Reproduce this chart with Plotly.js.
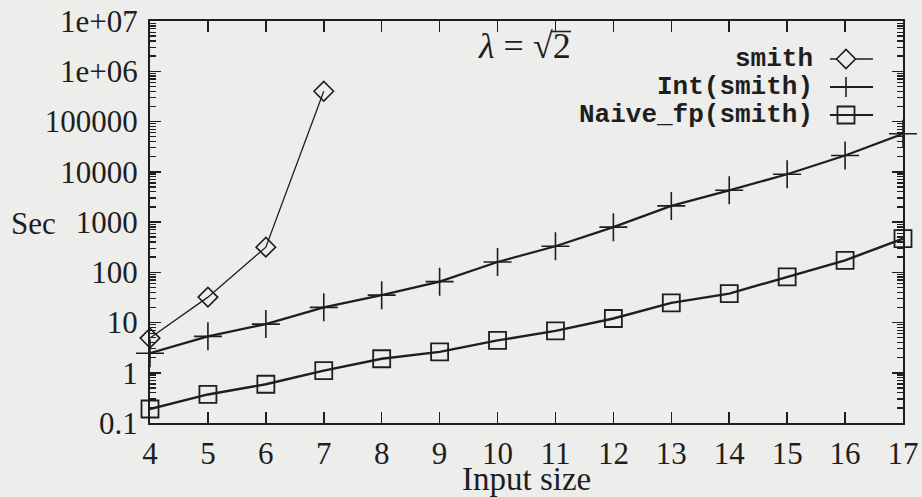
<!DOCTYPE html>
<html>
<head>
<meta charset="utf-8">
<script src="https://cdn.plot.ly/plotly-3.0.1.min.js"></script>
<style>
  html, body { margin: 0; padding: 0; background: #ededeb; }
  #chart { width: 922px; height: 497px; }
</style>
</head>
<body>
<div id="chart"></div>
<script>
// ---- data ----
const inputSize = [4, 5, 6, 7, 8, 9, 10, 11, 12, 13, 14, 15, 16, 17];
const smithX = [4, 5, 6, 7];
const smithSec = [4.9, 32, 316, 400000];
const intSmithSec = [2.45, 5.3, 9.3, 20, 35, 65, 160, 330, 790, 2090, 4270, 8900, 21000, 57000];
const naiveFpSec = [0.19, 0.37, 0.59, 1.1, 1.9, 2.6, 4.4, 6.8, 12, 24.5, 37.6, 81, 173, 465];
const yTickVals = [0.1, 1, 10, 100, 1000, 10000, 100000, 1000000, 10000000];
const yTickText = ['0.1', '1', '10', '100', '1000', '10000', '100000', '1e+06', '1e+07'];
const seriesNames = ['smith', 'Int(smith)', 'Naive_fp(smith)'];

// ---- style ----
const ink = '#1e1e1e';
const bg = '#ededeb';
const serif = 'Liberation Serif';
const mono = 'Liberation Mono';
const W = 922, H = 497;
const M = {l: 150, r: 19, t: 21, b: 74};
const PW = W - M.l - M.r, PH = H - M.t - M.b;
const px = x => (x - M.l) / PW;        // pixel -> paper x
const py = y => (H - M.b - y) / PH;    // pixel -> paper y

const traces = [
  {
    x: smithX, y: smithSec, name: seriesNames[0], type: 'scatter', mode: 'lines+markers', cliponaxis: false,
    line: {color: ink, width: 1.3},
    marker: {symbol: 'diamond-open', size: 15, color: ink, line: {color: ink, width: 1.6}}
  },
  {
    x: inputSize, y: intSmithSec, name: seriesNames[1], type: 'scatter', mode: 'lines+markers', cliponaxis: false,
    line: {color: ink, width: 2.2},
    marker: {symbol: 'cross-thin-open', size: 20, color: ink, line: {color: ink, width: 1.6}}
  },
  {
    x: inputSize, y: naiveFpSec, name: seriesNames[2], type: 'scatter', mode: 'lines+markers', cliponaxis: false,
    line: {color: ink, width: 2.4},
    marker: {symbol: 'square-open', size: 17, color: ink, line: {color: ink, width: 1.8}}
  }
];

// legend keys (text right aligned, sample on the right, like gnuplot)
const legendRows = [59, 87, 115];
const lineX0 = 830, lineX1 = 873, markX = 846;
const shapes = [];
const annotations = [];
legendRows.forEach((yy, i) => {
  annotations.push({
    xref: 'paper', yref: 'paper', x: px(815), y: py(yy), xanchor: 'right', yanchor: 'middle',
    text: '<b>' + seriesNames[i] + '</b>', showarrow: false, font: {family: mono, size: 26, color: ink}
  });
  shapes.push({type: 'line', xref: 'paper', yref: 'paper', x0: px(lineX0), x1: px(lineX1), y0: py(yy), y1: py(yy),
    line: {color: ink, width: i === 0 ? 1.3 : 2.2}});
  if (i === 0) {
    const r = 9.5;
    shapes.push({type: 'path', xref: 'paper', yref: 'paper',
      path: `M ${px(markX - r)},${py(yy)} L ${px(markX)},${py(yy - r)} L ${px(markX + r)},${py(yy)} L ${px(markX)},${py(yy + r)} Z`,
      line: {color: ink, width: 1.6}, fillcolor: bg});
  } else if (i === 1) {
    shapes.push({type: 'line', xref: 'paper', yref: 'paper', x0: px(markX), x1: px(markX), y0: py(yy - 10), y1: py(yy + 10),
      line: {color: ink, width: 1.6}});
  } else {
    const r = 8.5;
    shapes.push({type: 'rect', xref: 'paper', yref: 'paper', x0: px(markX - r), x1: px(markX + r), y0: py(yy - r), y1: py(yy + r),
      line: {color: ink, width: 1.8}, fillcolor: 'rgba(0,0,0,0)'});
  }
});

// lambda label with the radical's vinculum over the 2
annotations.push({
  xref: 'paper', yref: 'paper', x: px(524), y: py(46), xanchor: 'center', yanchor: 'middle',
  text: '<i>λ</i> = √2', showarrow: false,
  font: {family: serif, size: 36, color: ink}
});
shapes.push({type: 'line', xref: 'paper', yref: 'paper', x0: px(551), x1: px(571), y0: py(31.5), y1: py(31.5),
  line: {color: ink, width: 1.6}});

annotations.push({
  xref: 'paper', yref: 'paper', x: px(33), y: py(223), xanchor: 'center', yanchor: 'middle',
  text: 'Sec', showarrow: false, font: {family: serif, size: 31, color: ink}
});
annotations.push({
  xref: 'paper', yref: 'paper', x: px(526), y: py(479), xanchor: 'center', yanchor: 'middle',
  text: 'Input size', showarrow: false, font: {family: serif, size: 33, color: ink}
});

const layout = {
  width: W, height: H,
  margin: M,
  paper_bgcolor: bg,
  plot_bgcolor: bg,
  showlegend: false,
  font: {family: serif, size: 31, color: ink},
  xaxis: {
    range: [4, 17], tickmode: 'linear', tick0: 4, dtick: 1,
    ticks: 'inside', ticklen: 11, tickwidth: 1.5, tickcolor: ink,
    showline: true, linecolor: ink, linewidth: 2, mirror: 'ticks',
    showgrid: false, zeroline: false, ticklabelstandoff: 2,
    tickfont: {family: serif, size: 31, color: ink}
  },
  yaxis: {
    type: 'log', range: [-1, 7], tickmode: 'array', tickvals: yTickVals, ticktext: yTickText,
    ticks: 'inside', ticklen: 11, tickwidth: 1.5, tickcolor: ink,
    minor: {dtick: 'D1', ticks: 'inside', ticklen: 6, tickwidth: 1.3, tickcolor: ink, showgrid: false},
    showline: true, linecolor: ink, linewidth: 2, mirror: 'ticks',
    showgrid: false, zeroline: false, ticklabelstandoff: 4,
    tickfont: {family: serif, size: 31, color: ink}
  },
  shapes: shapes,
  annotations: annotations
};

Plotly.newPlot('chart', traces, layout, {displayModeBar: false, staticPlot: true});
</script>
</body>
</html>
